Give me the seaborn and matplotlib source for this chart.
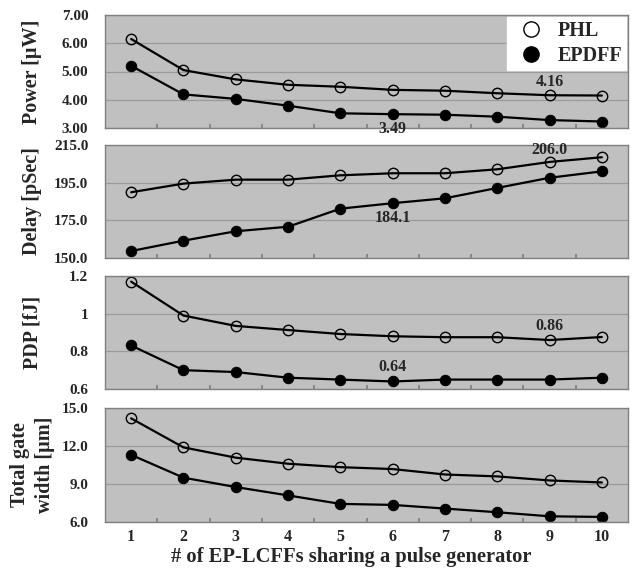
import seaborn as sns
import matplotlib.pyplot as plt
from matplotlib.lines import Line2D
import numpy as np

# number of EP-LCFFs sharing one pulse generator
n_ff = [1, 2, 3, 4, 5, 6, 7, 8, 9, 10]

# power [uW]
power_phl = [6.15, 5.05, 4.72, 4.53, 4.46, 4.35, 4.32, 4.23, 4.16, 4.15]
power_epdff = [5.20, 4.19, 4.03, 3.79, 3.52, 3.49, 3.47, 3.40, 3.28, 3.23]

# delay [pSec]
delay_phl = [189.9, 194.5, 196.6, 196.6, 198.9, 200.0, 200.0, 202.1, 206.0, 208.5]
delay_epdff = [158.7, 164.2, 169.2, 171.6, 181.2, 184.1, 186.7, 192.2, 197.6, 201.0]

# power delay product [fJ]
pdp_phl = [1.17, 0.99, 0.935, 0.913, 0.892, 0.88, 0.875, 0.875, 0.86, 0.876]
pdp_epdff = [0.831, 0.70, 0.69, 0.66, 0.65, 0.64, 0.65, 0.65, 0.65, 0.66]

# total gate width [um]
gw_phl = [14.18, 11.89, 11.08, 10.60, 10.33, 10.18, 9.75, 9.60, 9.28, 9.12]
gw_epdff = [11.30, 9.50, 8.76, 8.10, 7.43, 7.35, 7.06, 6.77, 6.45, 6.40]

# y tick labels as printed on the chart
power_ticks = [3.0, 4.0, 5.0, 6.0, 7.0]
power_labels = ['3.00', '4.00', '5.00', '6.00', '7.00']
delay_ticks = [155, 175, 195, 215]
delay_labels = ['150.0', '175.0', '195.0', '215.0']
pdp_ticks = [0.6, 0.8, 1.0, 1.2]
pdp_labels = ['0.6', '0.8', '1', '1.2']
gw_ticks = [6, 9, 12, 15]
gw_labels = ['6.0', '9.0', '12.0', '15.0']

sns.set_theme(style="white")
plt.rcParams['font.family'] = ['Liberation Serif', 'DejaVu Serif']
plt.rcParams['font.weight'] = 'bold'

fig = plt.figure(figsize=(6.33, 5.68), dpi=100)

left, width = 105 / 633, 523 / 633
# (top px, bottom px) of each panel
boxes = [(15, 128), (145, 258), (276, 389), (408, 522)]

panels = [
    (power_phl, power_epdff, power_ticks, power_labels, 'Power [µW]', -0.12),
    (delay_phl, delay_epdff, delay_ticks, delay_labels, 'Delay [pSec]', -0.12),
    (pdp_phl, pdp_epdff, pdp_ticks, pdp_labels, 'PDP [fJ]', -0.12),
    (gw_phl, gw_epdff, gw_ticks, gw_labels, 'Total gate\nwidth [µm]', -0.096),
]

axes = []
for (top, bot), (phl, ep, yt, yl, lab, lx) in zip(boxes, panels):
    ax = fig.add_axes([left, 1 - bot / 568, width, (bot - top) / 568])
    ax.set_facecolor('#c0c0c0')
    sns.lineplot(x=n_ff, y=phl, ax=ax, color='black', linewidth=1.6,
                 marker='o', markersize=7.5, markerfacecolor='none',
                 markeredgecolor='black', markeredgewidth=1.0)
    sns.lineplot(x=n_ff, y=ep, ax=ax, color='black', linewidth=1.6,
                 marker='o', markersize=7.5, markerfacecolor='black',
                 markeredgecolor='black')
    ax.set_xlim(0.5, 10.5)
    ax.set_ylim(yt[0], yt[-1])
    ax.set_yticks(yt)
    ax.set_yticklabels(yl, fontsize=11, fontweight='bold')
    ax.yaxis.grid(True, color='#9a9a9a', linewidth=0.9)
    ax.set_axisbelow(True)
    # category boundary tick marks, Excel-style
    ax.set_xticks(np.arange(1.5, 10.5, 1.0))
    ax.set_xticklabels([])
    ax.tick_params(axis='x', direction='in', length=3, color='#808080', bottom=True)
    ax.tick_params(axis='y', length=0, pad=12)
    for s in ax.spines.values():
        s.set_color('#808080')
        s.set_linewidth(1.0)
    ax.set_ylabel(lab, fontsize=14.5, fontweight='bold', linespacing=1.3)
    ax.yaxis.set_label_coords(lx, 0.5)
    axes.append(ax)

# x labels only on the bottom panel
bottom = axes[-1]
for i, v in enumerate(n_ff):
    bottom.text(v, -0.13, str(v), transform=bottom.get_xaxis_transform(),
                ha='center', va='center', fontsize=11.5, fontweight='bold')
bottom.text(0.47, -0.31, '# of EP-LCFFs sharing a pulse generator',
            transform=bottom.transAxes, ha='center', va='center',
            fontsize=14.8, fontweight='bold')

# value annotations
ann = dict(ha='center', va='center', fontsize=11.5, fontweight='bold')
axes[0].annotate('4.16', (n_ff[8], power_phl[8]), xytext=(0, 13), textcoords='offset pixels', **ann)
axes[0].annotate('3.49', (n_ff[5], power_epdff[5]), xytext=(0, -15), textcoords='offset pixels',
                 annotation_clip=False, **ann)
axes[1].annotate('206.0', (n_ff[8], delay_phl[8]), xytext=(0, 12), textcoords='offset pixels', **ann)
axes[1].annotate('184.1', (n_ff[5], delay_epdff[5]), xytext=(0, -15), textcoords='offset pixels', **ann)
axes[2].annotate('0.86', (n_ff[8], pdp_phl[8]), xytext=(0, 14), textcoords='offset pixels', **ann)
axes[2].annotate('0.64', (n_ff[5], pdp_epdff[5]), xytext=(0, 14), textcoords='offset pixels', **ann)

# legend
handles = [
    Line2D([], [], linestyle='none', marker='o', markersize=11,
           markerfacecolor='white', markeredgecolor='black', markeredgewidth=1.0),
    Line2D([], [], linestyle='none', marker='o', markersize=11,
           markerfacecolor='black', markeredgecolor='black'),
]
leg = axes[0].legend(handles, ['PHL', 'EPDFF'], loc='upper right',
                     bbox_to_anchor=(1.0, 1.0), frameon=True, fancybox=False,
                     framealpha=1, edgecolor='white', borderpad=0.2,
                     handletextpad=0.3, labelspacing=0.25, borderaxespad=0.1,
                     prop={'size': 14.5, 'weight': 'bold'})

plt.savefig('out.png', dpi=100)
